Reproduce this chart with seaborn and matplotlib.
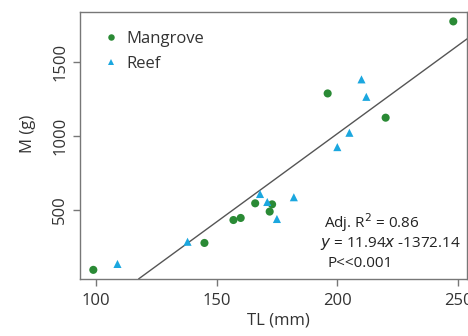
import numpy as np
import pandas as pd
import seaborn as sns
import matplotlib.pyplot as plt

# values
mangrove_tl = [99, 145, 157, 160, 166, 173, 172, 196, 220, 248]
mangrove_m = [95, 277, 432, 446, 545, 538, 489, 1288, 1124, 1775]
reef_tl = [109, 138, 168, 171, 175, 182, 200, 205, 210, 212]
reef_m = [135, 285, 608, 554, 439, 586, 925, 1022, 1383, 1265]

# fitted line reported on the figure
slope = 11.94
intercept = -1372.14

df = pd.DataFrame({
    'TL': mangrove_tl + reef_tl,
    'M': mangrove_m + reef_m,
    'Habitat': ['Mangrove'] * len(mangrove_tl) + ['Reef'] * len(reef_tl),
})

sns.set_style('white')
plt.rcParams['font.family'] = ['Open Sans', 'DejaVu Sans']

fig = plt.figure(figsize=(4.68, 3.36), dpi=100)
ax = fig.add_axes([0.171, 0.170, 0.827, 0.794])

sns.scatterplot(data=df, x='TL', y='M', hue='Habitat', style='Habitat',
                markers={'Mangrove': 'o', 'Reef': '^'},
                palette={'Mangrove': '#2a8a35', 'Reef': '#1ba7df'},
                s=34, linewidth=0, ax=ax, zorder=3)
ax.axline((0, intercept), slope=slope, color='#555555', lw=1.0, zorder=2)

ax.set_xlim(93.5, 253.7)
ax.set_ylim(34, 1838)
ax.set_xticks([100, 150, 200, 250])
ax.set_yticks([500, 1000, 1500])
ax.tick_params(axis='both', direction='out', length=5, width=1, color='#777777',
               labelsize=12, labelcolor='#333333', bottom=True, left=True)
ax.tick_params(axis='x', pad=5)
for lab in ax.get_yticklabels():
    lab.set_rotation(90)
    lab.set_va('center')
for sp in ax.spines.values():
    sp.set_color('#777777')
    sp.set_linewidth(1.0)

ax.set_xlabel('TL (mm)', fontsize=12, color='#333333', va='center')
ax.set_ylabel('M (g)', fontsize=12, color='#333333')
ax.xaxis.set_label_coords(0.512, -0.157)
ax.yaxis.set_label_coords(-0.115, 0.543)

leg = ax.legend(loc='upper left', frameon=False, fontsize=12, handletextpad=-0.1,
                borderaxespad=0.0, labelspacing=0.55, markerscale=0.8,
                bbox_to_anchor=(0.02, 0.955))
for t in leg.get_texts():
    t.set_color('#333333')

ax.text(0.63, 0.21, 'Adj. R$^2$ = 0.86', transform=ax.transAxes, fontsize=11,
        color='#222222', ha='left', va='center')
ax.text(0.62, 0.131, '$y$ = 11.94$x$ -1372.14', transform=ax.transAxes, fontsize=11,
        color='#222222', ha='left', va='center')
ax.text(0.64, 0.056, 'P<<0.001', transform=ax.transAxes, fontsize=11,
        color='#222222', ha='left', va='center')

plt.savefig('out.png', dpi=100)
